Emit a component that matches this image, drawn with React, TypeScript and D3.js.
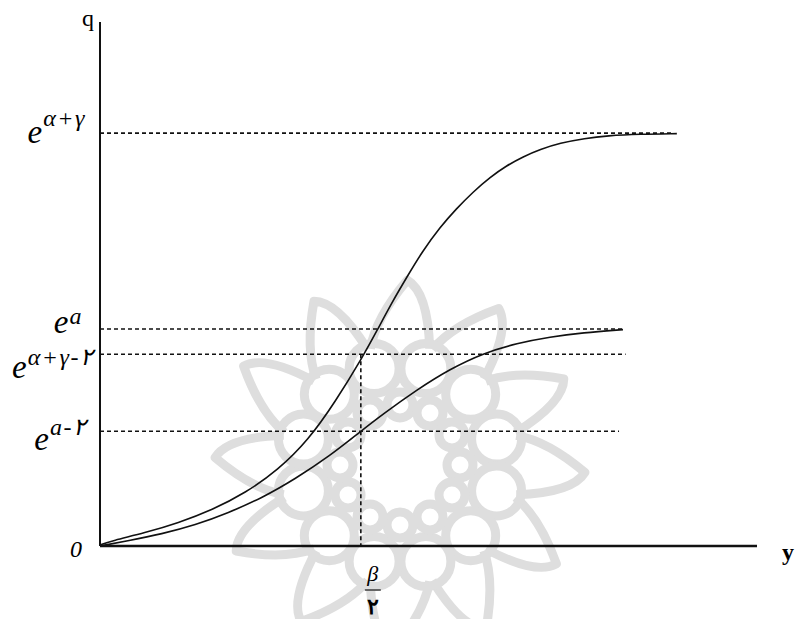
import React from 'react';
import * as d3 from 'd3';

// readings: x in units of y, value in units of q (axis length = 10)
const upperX = [0, 0.18, 0.68, 1.19, 1.71, 2.21, 2.71, 3.17, 3.58, 3.99, 4.22, 4.44, 4.67, 4.9, 5.18, 5.42, 5.68, 5.94, 6.19, 6.44, 6.7, 7.0, 7.38, 7.72, 8.22, 8.78];
const upperQ = [0.02, 0.1, 0.25, 0.44, 0.69, 1.01, 1.45, 2.02, 2.75, 3.59, 4.12, 4.64, 5.13, 5.61, 6.09, 6.43, 6.76, 7.04, 7.26, 7.43, 7.57, 7.69, 7.78, 7.83, 7.86, 7.87];
const lowerX = [0, 0.43, 0.94, 1.45, 1.95, 2.47, 2.97, 3.5, 3.96, 4.31, 4.82, 5.33, 5.83, 6.35, 6.85, 7.35, 7.96];
const lowerQ = [0, 0.1, 0.23, 0.4, 0.63, 0.92, 1.28, 1.72, 2.18, 2.52, 2.98, 3.38, 3.68, 3.87, 3.99, 4.07, 4.13];

const levelSup = ['α+γ', 'a', 'α+γ-۲', 'a-۲'];
const levelQ = [7.88, 4.14, 3.66, 2.19];
const levelEnd = [8.7, 7.96, 8.0, 7.9];
const halfBeta = 3.97;

const W = 796;
const H = 619;

// label placement (px) for each level: baseline offset, superscript raise, right edge
const labelDy = [10, 4, 24, 19];
const supRaise = [-17, -9, -13, -15];
const labelRight = [86, 83, 93, 86];

function Watermark({ cx, cy }: { cx: number; cy: number }) {
  const n = 12;
  const spikes = d3.range(n).map((k) => {
    const a = (k * 2 * Math.PI) / n - Math.PI / 2;
    const p = (r: number, t: number) => [cx + r * Math.cos(a + t), cy + r * Math.sin(a + t)];
    const b1 = p(120, -0.25);
    const b2 = p(120, 0.25);
    const tip = p(185, 0.04);
    const c1 = p(150, -0.16);
    const c2 = p(175, 0.16);
    return `M${b1}Q${c1} ${tip}Q${c2} ${b2}`;
  });
  const rings = d3.range(n).map((k) => {
    const a = ((k + 0.5) * 2 * Math.PI) / n - Math.PI / 2;
    return [cx + 100 * Math.cos(a), cy + 100 * Math.sin(a)];
  });
  const petals = d3.range(n).map((k) => {
    const a = (k * 2 * Math.PI) / n - Math.PI / 2;
    return [cx + 60 * Math.cos(a), cy + 60 * Math.sin(a)];
  });
  return (
    <g fill="none" stroke="#dedede" strokeWidth={9} strokeLinejoin="round">
      {spikes.map((d, i) => (
        <path key={'s' + i} d={d} />
      ))}
      {rings.map(([x, y], i) => (
        <circle key={'r' + i} cx={x} cy={y} r={25} />
      ))}
      {petals.map(([x, y], i) => (
        <circle key={'p' + i} cx={x} cy={y} r={13} />
      ))}
    </g>
  );
}

export default function App() {
  const x = d3.scaleLinear().domain([0, 10]).range([100, 757]);
  const y = d3.scaleLinear().domain([0, 10]).range([546, 22]);

  const line = d3
    .line<[number, number]>()
    .x((d) => x(d[0]))
    .y((d) => y(d[1]))
    .curve(d3.curveBasis);

  const upper = d3.zip(upperX, upperQ) as [number, number][];
  const lower = d3.zip(lowerX, lowerQ) as [number, number][];

  const serif = '"Liberation Serif", "DejaVu Serif", serif';

  return (
    <svg
      width={W}
      height={H}
      style={{ position: 'absolute', left: 0, top: 0, background: '#fff' }}
      fontFamily={serif}
    >
      <Watermark cx={400} cy={465} />

      {/* guide lines */}
      <g stroke="#111" strokeWidth={1.6} strokeDasharray="4 3">
        {levelQ.map((q, i) => (
          <line key={i} x1={x(0)} x2={x(levelEnd[i])} y1={y(q)} y2={y(q)} />
        ))}
        <line x1={x(halfBeta)} x2={x(halfBeta)} y1={y(levelQ[2])} y2={y(0)} />
      </g>

      {/* curves */}
      <path d={line(upper) ?? ''} fill="none" stroke="#111" strokeWidth={1.6} />
      <path d={line(lower) ?? ''} fill="none" stroke="#111" strokeWidth={1.6} />

      {/* axes */}
      <line x1={x(0)} x2={x(0)} y1={y(0)} y2={y(10)} stroke="#111" strokeWidth={2} />
      <line x1={x(0)} x2={x(10)} y1={y(0)} y2={y(0)} stroke="#111" strokeWidth={2.6} />

      <text x={82} y={26} fontSize={24}>q</text>
      <text x={782} y={560} fontSize={24} fontWeight="bold">y</text>
      <text x={70} y={557} fontSize={24} fontStyle="italic">0</text>

      {levelQ.map((q, i) => (
        <text key={i} x={labelRight[i]} y={y(q) + labelDy[i]} textAnchor="end" fontStyle="italic">
          <tspan fontSize={33}>e</tspan>
          <tspan fontSize={24} dy={supRaise[i]} dx={1} letterSpacing={1.5}>
            {levelSup[i]}
          </tspan>
        </text>
      ))}

      <g transform={`translate(${x(halfBeta) + 12},0)`}>
        <text x={0} y={581} fontSize={22} fontStyle="italic" textAnchor="middle">β</text>
        <line x1={-8} x2={8} y1={590} y2={590} stroke="#111" strokeWidth={1.2} />
        <text x={0} y={614} fontSize={22} fontWeight="bold" textAnchor="middle">۲</text>
      </g>
    </svg>
  );
}
